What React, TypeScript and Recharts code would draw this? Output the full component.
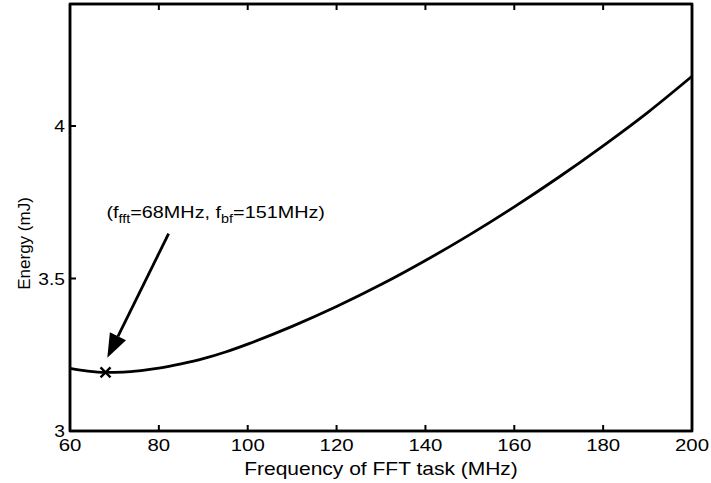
import { LineChart, Line, XAxis, YAxis, ReferenceDot, ReferenceLine, ReferenceArea, Label } from 'recharts'

// energy vs FFT task frequency
const freqMHz = [60, 64, 68, 72, 76, 80, 85, 90, 95, 100, 110, 120, 130, 140, 150, 160, 170, 180, 190, 200]
const energyMJ = [3.205, 3.196, 3.192, 3.193, 3.198, 3.206, 3.22, 3.237, 3.259, 3.285, 3.343, 3.408, 3.48, 3.559, 3.644, 3.735, 3.832, 3.935, 4.044, 4.163]

const xTicks = [60, 80, 100, 120, 140, 160, 180, 200]
const yTicks = [3, 3.5, 4]
const xRange = [60, 200]
const yRange = [3, 4.4]

// optimum point and where the note/arrow sit (data units)
const optFreq = 68
const optEnergy = 3.192
const noteAt = { x: 68.2, y: 3.7 }
const arrowFrom = { x: 82.2, y: 3.647 }
const arrowTo = { x: 68.4, y: 3.24 }

const data = freqMHz.map((f, i) => ({ f, e: energyMJ[i] }))

const FONT = 'Liberation Sans, Arial, Helvetica, sans-serif'
const TICK = 6
const SX = 1.2 // the scanned figure is a bit wider than tall

const Wide = ({ x, y, size, anchor = 'start', children }: any) => (
  <text
    transform={`translate(${x},${y}) scale(${SX},1)`}
    x={0}
    y={0}
    textAnchor={anchor}
    fontFamily={FONT}
    fontSize={size}
    fill="#000"
  >
    {children}
  </text>
)

const BottomTick = ({ x, y, payload }: any) => (
  <g>
    <line x1={x} y1={y} x2={x} y2={y - TICK} stroke="#000" strokeWidth={2} />
    <Wide x={x} y={y + 20} size={17} anchor="middle">{payload.value}</Wide>
  </g>
)

const TopTick = ({ x, y }: any) => (
  <line x1={x} y1={y} x2={x} y2={y + TICK} stroke="#000" strokeWidth={2} />
)

const LeftTick = ({ x, y, payload }: any) => (
  <g>
    <line x1={x} y1={y} x2={x + TICK} y2={y} stroke="#000" strokeWidth={2} />
    <Wide x={x - 5} y={y + 6} size={16} anchor="end">{payload.value}</Wide>
  </g>
)

const RightTick = ({ x, y }: any) => (
  <line x1={x} y1={y} x2={x - TICK} y2={y} stroke="#000" strokeWidth={2} />
)

const Cross = ({ cx, cy }: any) => (
  <g stroke="#000" strokeWidth={2.4}>
    <line x1={cx - 5} y1={cy - 5} x2={cx + 5} y2={cy + 5} />
    <line x1={cx - 5} y1={cy + 5} x2={cx + 5} y2={cy - 5} />
  </g>
)

const Note = ({ cx, cy }: any) => (
  <Wide x={cx} y={cy} size={16.5}>
    (f<tspan fontSize={12} dy={5}>fft</tspan>
    <tspan dy={-5}>=68MHz, f</tspan>
    <tspan fontSize={12} dy={5}>bf</tspan>
    <tspan dy={-5}>=151MHz)</tspan>
  </Wide>
)

const Arrow = ({ x1, y1, x2, y2 }: any) => {
  const ang = Math.atan2(y2 - y1, x2 - x1)
  const len = 24
  const half = 9
  const bx = x2 - len * Math.cos(ang)
  const by = y2 - len * Math.sin(ang)
  const px = -Math.sin(ang) * half
  const py = Math.cos(ang) * half
  return (
    <g>
      <line x1={x1} y1={y1} x2={bx} y2={by} stroke="#000" strokeWidth={2.8} />
      <polygon points={`${x2},${y2} ${bx + px},${by + py} ${bx - px},${by - py}`} fill="#000" />
    </g>
  )
}

const frame = { stroke: '#000', strokeWidth: 2.5 }

export default function App() {
  return (
    <div style={{ position: 'absolute', left: 0, top: 0, background: '#fff' }}>
      <LineChart width={711} height={483} data={data} margin={{ top: 3, right: 18, left: 0, bottom: 0 }}>
        <XAxis
          dataKey="f"
          type="number"
          domain={xRange}
          ticks={xTicks}
          height={52}
          tickSize={0}
          tickMargin={0}
          tick={<BottomTick />}
          axisLine={frame}
        >
          <Label
            content={({ viewBox }: any) => (
              <Wide x={viewBox.x + viewBox.width / 2} y={viewBox.y + 44} size={17.5} anchor="middle">
                Frequency of FFT task (MHz)
              </Wide>
            )}
          />
        </XAxis>
        <XAxis
          xAxisId="top"
          orientation="top"
          dataKey="f"
          type="number"
          domain={xRange}
          ticks={xTicks}
          height={1}
          tickSize={0}
          tickMargin={0}
          tick={<TopTick />}
          axisLine={frame}
        />
        <YAxis
          type="number"
          domain={yRange}
          ticks={yTicks}
          width={70}
          tickSize={0}
          tickMargin={0}
          tick={<LeftTick />}
          axisLine={frame}
        >
          <Label
            content={({ viewBox }: any) => {
              const cx = 24
              const cy = viewBox.y + viewBox.height / 2 + 26
              return (
                <text x={cx} y={cy} transform={`rotate(-90 ${cx} ${cy})`} textAnchor="middle" dominantBaseline="central" fontFamily={FONT} fontSize={17} fill="#000">
                  Energy (mJ)
                </text>
              )
            }}
          />
        </YAxis>
        <YAxis
          yAxisId="right"
          orientation="right"
          type="number"
          domain={yRange}
          ticks={yTicks}
          width={1}
          tickSize={0}
          tickMargin={0}
          tick={<RightTick />}
          axisLine={frame}
        />
        <ReferenceArea
          x1={xRange[0]}
          x2={xRange[1]}
          y1={yRange[0]}
          y2={yRange[1]}
          fill="none"
          stroke="#000"
          strokeWidth={2.5}
          ifOverflow="visible"
        />
        <Line
          type="monotone"
          dataKey="e"
          stroke="#000"
          strokeWidth={2.8}
          dot={false}
          isAnimationActive={false}
        />
        <ReferenceLine segment={[arrowFrom, arrowTo]} shape={<Arrow />} />
        <ReferenceDot x={optFreq} y={optEnergy} shape={<Cross />} />
        <ReferenceDot x={noteAt.x} y={noteAt.y} shape={<Note />} />
      </LineChart>
    </div>
  )
}
